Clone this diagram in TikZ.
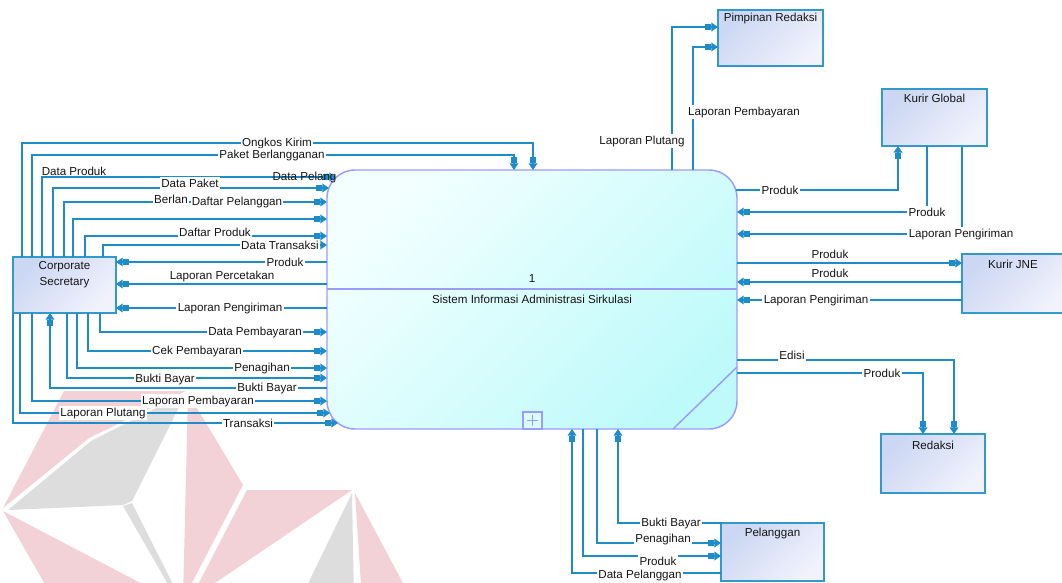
\documentclass[tikz,border=0pt]{standalone}
\usepackage{fontspec}
\setmainfont{Liberation Sans}
\usetikzlibrary{arrows.meta}
\definecolor{lc}{HTML}{1E8CC8}
\definecolor{entb}{HTML}{3399CC}
\definecolor{entA}{HTML}{CBD7F3}
\definecolor{entB}{HTML}{F1F2FC}
\definecolor{procb}{HTML}{9C9CFF}
\definecolor{procA}{HTML}{F3FFFF}
\definecolor{procB}{HTML}{BFFAFA}
\definecolor{wmpink}{HTML}{F3D2D7}
\definecolor{wmgray}{HTML}{DDDDDD}
\definecolor{txt}{HTML}{151515}
\begin{document}
\begin{tikzpicture}[x=0.75pt,y=-0.75pt,
  flow/.style={draw=lc, line width=1.1pt, -{Rectangle[length=4.5pt,width=4pt] Triangle[length=5pt,width=6.5pt]}},
  link/.style={draw=lc, line width=1.1pt},
  lbl/.style={fill=white, inner sep=1pt, text=txt, font=\fontsize{8.7}{10}\selectfont},
  lbln/.style={inner sep=1pt, text=txt, font=\fontsize{8.7}{10}\selectfont},
  etxt/.style={inner sep=0pt, text=txt, align=center, font=\fontsize{8.7}{12}\selectfont},
  entity/.style={draw=entb, line width=1.1pt, top color=entA, bottom color=entB, shading angle=45, inner sep=0pt, outer sep=0pt},
  proc/.style={draw=procb, line width=1.1pt, top color=procA, bottom color=procB, shading angle=45, rounded corners=21pt, inner sep=0pt, outer sep=0pt},
  procline/.style={draw=procb, line width=1.1pt}
]
\path[use as bounding box, clip] (0,0) rectangle (1062,582);
\fill[white] (0,0) rectangle (1062,582);

% watermark
\fill[wmpink] (3,508) -- (64,391) -- (186,391) -- (89,438) -- cycle;
\fill[wmgray] (8,510) -- (91,441) -- (186,393) -- (132,501) -- (123,505) -- cycle;
\fill[wmpink] (188,393) -- (243,485) -- (183,600) -- cycle;
\fill[wmpink] (3,511) -- (54,600) -- (173,600) -- cycle;
\fill[wmgray] (123,506) -- (132,503) -- (181,600) -- (177,600) -- cycle;
\fill[wmpink] (190,600) -- (247,490) -- (352,490) -- cycle;
\fill[wmgray] (352,493) -- (300,600) -- (354,600) -- cycle;
\fill[wmpink] (355,493) -- (412,600) -- (362,600) -- cycle;

% process
\node[proc, minimum width=307.5pt, minimum height=194.25pt] (p) at (532,299.5) {};
\draw[procline] (p.west |- 0,289) -- (p.east |- 0,289);
\draw[procline] (p.east |- 0,367) -- (673,0 |- p.south);
\node[draw=procb, line width=0.9pt, fill=white!40!procB, minimum width=14.25pt, minimum height=12.75pt, inner sep=0pt, outer sep=0pt,
  path picture={\draw[procb, line width=0.7pt] ([xshift=-4pt]path picture bounding box.center) -- ([xshift=4pt]path picture bounding box.center)
     ([yshift=-4pt]path picture bounding box.center) -- ([yshift=4pt]path picture bounding box.center);}] (plus) at (532.5,420.5) {};
\node[etxt] (pnum) at (532,279) {1};
\node[etxt] (ptitle) at (532,299) {Sistem Informasi Administrasi Sirkulasi};

% entities
\node[entity, minimum width=77.25pt, minimum height=42pt] (cs) at (64.5,285) {};
\node[etxt] (csT) at (64.5,275) {Corporate\\Secretary};
\node[entity, minimum width=78.75pt, minimum height=42pt] (pr) at (770.5,38) {};
\node[etxt] (prT) at (770.5,18) {Pimpinan Redaksi};
\node[entity, minimum width=78.75pt, minimum height=42.75pt] (kg) at (934.5,117.5) {};
\node[etxt] (kgT) at (934.5,98) {Kurir Global};
\node[entity, minimum width=78pt, minimum height=44.25pt] (kj) at (1014,283.5) {};
\node[etxt] (kjT) at (1013,264) {Kurir JNE};
\node[entity, minimum width=78pt, minimum height=44.25pt] (rd) at (933,463.5) {};
\node[etxt] (rdT) at (933,445) {Redaksi};
\node[entity, minimum width=77.25pt, minimum height=43.5pt] (pl) at (772.5,552) {};
\node[etxt] (plT) at (772.5,533) {Pelanggan};

% corner points on the process border
\coordinate (pA) at (336,177);
\coordinate (pB) at (329,188);
\coordinate (pD) at (330,413);
\coordinate (pE) at (338,423);
\coordinate (pR) at (736,190);

% left top flows
\draw[flow] (22,0 |- cs.north) |- (533,143) -- (533,0 |- p.north);
\draw[flow] (32,0 |- cs.north) |- (514,155) -- (514,0 |- p.north);
\draw[flow] (42,0 |- cs.north) |- (pA);
\draw[flow] (53,0 |- cs.north) |- (pB);
\draw[flow] (64,0 |- cs.north) |- (p.west |- 0,202);
\draw[flow] (73,0 |- cs.north) |- (p.west |- 0,219);
\draw[flow] (85,0 |- cs.north) |- (p.west |- 0,236);
\draw[flow] (103,0 |- cs.north) |- (p.west |- 0,245);
\draw[flow] (p.west |- 0,262) -- (cs.east |- 0,262);
\draw[flow] (p.west |- 0,284) -- (cs.east |- 0,284);
\draw[flow] (p.west |- 0,308) -- (cs.east |- 0,308);
% left bottom flows
\draw[flow] (100,0 |- cs.south) |- (p.west |- 0,332);
\draw[flow] (88,0 |- cs.south) |- (p.west |- 0,351);
\draw[flow] (77,0 |- cs.south) |- (p.west |- 0,368);
\draw[flow] (67,0 |- cs.south) |- (p.west |- 0,378);
\draw[flow] (p.west |- 0,388) -| (50,0 |- cs.south);
\draw[flow] (32,0 |- cs.south) |- (p.west |- 0,401);
\draw[flow] (20,0 |- cs.south) |- (pD);
\draw[flow] (13,0 |- cs.south) |- (pE);

% right flows
\draw[flow] (pR) -| (898,0 |- kg.south);
\draw[flow] (927,0 |- kg.south) |- (p.east |- 0,212);
\draw[flow] (962,0 |- kg.south) |- (p.east |- 0,234);
\draw[flow] (p.east |- 0,263) -- (kj.west |- 0,263);
\draw[flow] (kj.west |- 0,282) -- (p.east |- 0,282);
\draw[flow] (kj.west |- 0,300) -- (p.east |- 0,300);
\draw[flow] (p.east |- 0,360) -| (954,0 |- rd.north);
\draw[flow] (p.east |- 0,373) -| (923,0 |- rd.north);

% top flows
\draw[flow] (672,0 |- p.north) |- (pr.west |- 0,27);
\draw[flow] (693,0 |- p.north) |- (pr.west |- 0,47);

% bottom flows
\draw[flow] (pl.west |- 0,523) -| (618,0 |- p.south);
\draw[flow] (597,0 |- p.south) |- (pl.west |- 0,543);
\draw[flow] (583,0 |- p.south) |- (pl.west |- 0,556);
\draw[flow] (pl.west |- 0,573) -| (572,0 |- p.south);

% labels left
\node[lbl] (l1) at (277,143) {Ongkos Kirim};
\node[lbl] (l2) at (272,155) {Paket Berlangganan};
\node[lbln] (l3) at (74,171) {Data Produk};
\node[lbln, anchor=west] (l3b) at (271,177) {Data Pelang};
\node[lbl] (l4) at (190,183) {Data Paket};
\node[lbl] (l5a) at (171,199) {Berlan};
\node[lbl] (l5) at (237,202) {Daftar Pelanggan};
\node[lbl] (l7) at (215,232) {Daftar Produk};
\node[lbl] (l8) at (280,245) {Data Transaksi};
\node[lbl] (l9) at (285,262) {Produk};
\node[lbln] (l10) at (222,276) {Laporan Percetakan};
\node[lbl] (l11) at (230,308) {Laporan Pengiriman};
\node[lbl] (l12) at (255,332) {Data Pembayaran};
\node[lbl] (l13) at (197,351) {Cek Pembayaran};
\node[lbl] (l14) at (262,368) {Penagihan};
\node[lbl] (l15) at (165,379) {Bukti Bayar};
\node[lbl] (l16) at (267,388) {Bukti Bayar};
\node[lbl] (l17) at (198,401) {Laporan Pembayaran};
\node[lbl] (l18) at (103,413) {Laporan Plutang};
\node[lbl] (l19) at (248,423) {Transaksi};
% labels right
\node[lbl] (r1) at (780,190) {Produk};
\node[lbl] (r2) at (927,212) {Produk};
\node[lbl] (r3) at (961,234) {Laporan Pengiriman};
\node[lbln] (r4) at (830,254) {Produk};
\node[lbln] (r5) at (830,273) {Produk};
\node[lbl] (r6) at (816,300) {Laporan Pengiriman};
\node[lbl] (r7) at (792,355) {Edisi};
\node[lbl] (r8) at (882,373) {Produk};
% labels top
\node[lbl] (t1) at (642,141) {Laporan Plutang};
\node[lbl] (t2) at (744,112) {Laporan Pembayaran};
% labels bottom
\node[lbl] (b1) at (671,523) {Bukti Bayar};
\node[lbl] (b2) at (663,539) {Penagihan};
\node[lbl] (b3) at (658,561) {Produk};
\node[lbl] (b4) at (640,575) {Data Pelanggan};
\end{tikzpicture}
\end{document}
